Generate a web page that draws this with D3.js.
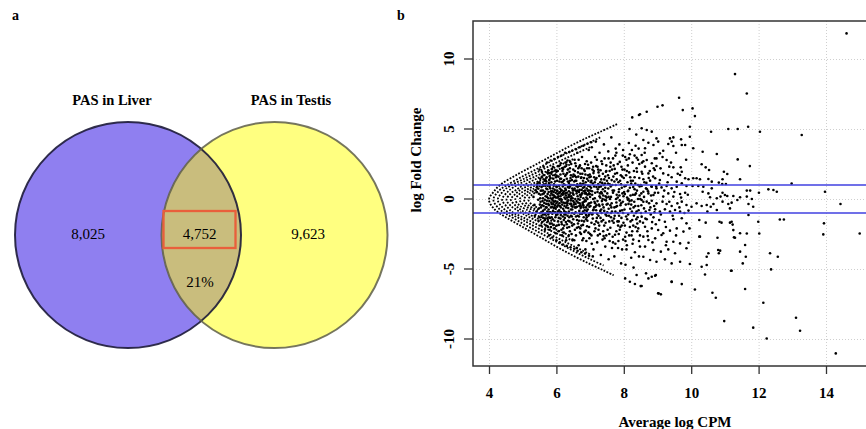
<!DOCTYPE html>
<html>
<head>
<meta charset="utf-8">
<script src="https://cdn.jsdelivr.net/npm/d3@7"></script>
<style>
  body { margin: 0; background: #fff; }
  svg { display: block; }
</style>
</head>
<body>
<svg id="fig" width="866" height="429"></svg>
<script>
(function(){

  // ---- panel a : venn ----
  const vennTitles = ['PAS in Liver', 'PAS in Testis']
  const vennCounts = [8025, 4752, 9623]   // liver only, shared, testis only
  const sharedPct = '21%'

  // ---- panel b : MA plot ----
  const xTicks = [4, 6, 8, 10, 12, 14]
  const yTicks = [-10, -5, 0, 5, 10]
  const foldCut = [1, -1]

  // low-count stripes: tip x, upper branch, lower branch
  const stripeTips = [4.0, 4.13, 4.26, 4.39, 4.52, 4.65, 4.78, 4.91, 5.04, 5.17]
  const stripesUpper = [
    [[4.15,0.55],[4.33,1.0],[4.8,1.7],[5.3,2.35],[5.8,3.0],[6.3,3.65],[6.8,4.25],[7.3,4.8],[7.8,5.35]],
    [[4.3,0.6],[4.5,0.95],[5.0,1.62],[5.5,2.25],[6.0,2.9],[6.5,3.5],[7.0,4.05],[7.3,4.4]],
    [[4.4,0.5],[4.6,0.9],[5.0,1.4],[5.5,2.0],[6.0,2.6],[6.5,3.15],[7.0,3.7]],
    [[4.55,0.5],[4.7,0.8],[5.0,1.2],[5.5,1.75],[6.0,2.3],[6.5,2.85]],
    [[4.65,0.4],[4.8,0.65],[5.0,0.95],[5.5,1.55],[6.0,2.05],[6.4,2.45]],
    [[4.78,0.35],[5.0,0.75],[5.5,1.3],[6.0,1.8]],
    [[4.9,0.35],[5.1,0.65],[5.5,1.1],[5.9,1.5]],
    [[5.05,0.35],[5.3,0.7],[5.8,1.2]],
    [[5.2,0.4],[5.5,0.75]],
    [[5.3,0.35],[5.55,0.6]]
  ]
  const stripesLower = [
    [[4.15,-0.7],[4.5,-1.3],[5.0,-2.0],[5.5,-2.7],[6.0,-3.4],[6.5,-4.05],[7.0,-4.65],[7.4,-5.1],[7.7,-5.45]],
    [[4.3,-0.7],[4.5,-1.05],[5.0,-1.75],[5.5,-2.4],[6.0,-3.05],[6.5,-3.7],[7.0,-4.3],[7.4,-4.75]],
    [[4.4,-0.6],[4.6,-1.0],[5.0,-1.5],[5.5,-2.15],[6.0,-2.75],[6.5,-3.35],[7.0,-3.95]],
    [[4.55,-0.6],[4.7,-0.95],[5.0,-1.3],[5.5,-1.9],[6.0,-2.45],[6.5,-3.0]],
    [[4.65,-0.5],[4.8,-0.75],[5.0,-1.05],[5.5,-1.65],[6.0,-2.2],[6.4,-2.6]],
    [[4.78,-0.45],[5.0,-0.85],[5.5,-1.45],[6.0,-1.95]],
    [[4.9,-0.45],[5.1,-0.75],[5.5,-1.25],[5.9,-1.6]],
    [[5.05,-0.45],[5.3,-0.8],[5.8,-1.3]],
    [[5.2,-0.5],[5.5,-0.85]],
    [[5.3,-0.45],[5.55,-0.7]]
  ]

  const cloudCore = [
    [5.32,0.15],[5.35,-0.42],[5.38,0.62],[5.41,-0.9],[5.44,1.1],[5.46,-0.05],[5.48,0.38],[5.5,-1.3],[5.52,1.45],[5.54,-0.6],
    [5.56,0.85],[5.58,-1.65],[5.6,0.05],[5.62,1.7],[5.64,-0.28],[5.66,0.52],[5.68,-1.05],[5.7,1.25],[5.36,-1.2],[5.43,0.9],
    [5.53,-0.2],[5.59,0.35],[5.65,-0.75],[5.69,-1.9],[5.57,1.95],[5.47,-1.55],[5.61,-1.35],[5.67,0.95],[5.41,0.48],[5.55,-0.95],
    [5.72,-0.12],[5.73,0.7],[5.75,-1.6],[5.76,2.05],[5.78,-0.45],[5.79,1.35],[5.8,-2.2],[5.82,0.25],[5.83,-0.95],[5.85,1.8],
    [5.86,-1.3],[5.88,0.55],[5.89,-0.1],[5.9,2.3],[5.92,-1.85],[5.93,1.05],[5.95,-0.6],[5.96,0.15],[5.98,-2.45],[5.99,1.55],
    [6.0,-0.3],[6.01,0.85],[6.03,-1.1],[6.04,2.0],[6.05,-1.6],[6.07,0.4],[6.08,-0.8],[6.09,1.25],[5.74,0.35],[5.77,-0.75],
    [5.81,1.0],[5.84,-2.0],[5.87,0.0],[5.91,-0.35],[5.94,1.7],[5.97,-1.3],[6.02,0.6],[6.06,-2.3],[6.1,-0.05],[5.76,-1.1],
    [5.88,-0.55],[5.92,0.95],[6.0,1.95],[6.06,0.2],[5.8,1.65],[5.96,-0.95],[6.03,-0.2],[5.85,0.4],
    [6.11,0.5],[6.12,-1.4],[6.13,2.55],[6.15,-0.2],[6.16,1.2],[6.17,-2.6],[6.19,0.9],[6.2,-0.7],[6.21,1.8],[6.23,-1.9],
    [6.24,0.1],[6.25,2.3],[6.27,-1.1],[6.28,0.65],[6.29,-2.95],[6.31,1.45],[6.32,-0.45],[6.33,2.75],[6.35,-1.55],[6.36,0.3],
    [6.37,-0.9],[6.39,1.95],[6.4,-2.3],[6.41,1.0],[6.43,-0.1],[6.44,2.5],[6.45,-1.7],[6.47,0.75],[6.48,-0.55],[6.49,1.6],
    [6.12,1.75],[6.14,-0.95],[6.18,0.3],[6.22,-1.5],[6.26,1.0],[6.3,-0.25],[6.34,0.85],[6.38,-2.0],[6.42,0.45],[6.46,-1.25],
    [6.5,2.1],[6.16,-1.8],[6.2,2.15],[6.24,-0.5],[6.28,-1.65],[6.32,1.85],[6.36,-2.65],[6.4,1.3],[6.44,-0.35],[6.48,-2.9],
    [6.13,0.0],[6.23,0.55],[6.33,-1.2],[6.43,1.7],[6.15,-2.2],[6.27,2.6],[6.37,0.15],[6.47,-1.0]
  ]

  const cloudCoreDense = [
    [5.6,0.6],[5.62,-0.5],[5.63,1.05],[5.66,-1.5],[5.68,0.2],[5.7,-0.35],[5.71,1.55],[5.73,-0.9],[5.74,0.95],[5.75,-2.0],
    [5.77,0.5],[5.78,1.85],[5.79,-0.15],[5.81,-1.35],[5.82,0.75],[5.84,-0.6],[5.85,1.2],[5.86,-1.75],[5.87,2.15],[5.89,0.3],
    [5.9,-0.85],[5.91,1.45],[5.93,-0.2],[5.94,-1.55],[5.95,0.65],[5.97,2.05],[5.98,-0.7],[5.99,0.1],[6.01,-1.9],[6.02,1.3],
    [6.03,0.35],[6.05,-0.45],[6.06,1.6],[6.07,-1.35],[6.08,2.35],[6.1,0.75],[6.11,-0.95],[6.12,0.2],[6.14,1.45],[6.15,-1.65],
    [6.16,0.6],[6.17,-0.4],[6.18,2.0],[6.2,-2.1],[6.21,0.35],[6.22,1.05],[6.23,-0.85],[6.25,-1.35],[6.26,1.65],[6.27,0.0],
    [6.29,-0.6],[6.3,2.45],[6.31,0.45],[6.32,-2.05],[6.34,1.25],[6.35,-0.1],[6.36,-1.0],[6.38,0.8],[6.39,-1.6],[6.4,2.2],
    [6.41,-0.35],[6.42,1.5],[6.44,0.2],[6.45,-2.5],[6.46,1.0],[6.47,-0.75],[6.49,0.4],[6.5,-1.45],[6.51,1.75],[6.52,-0.4],
    [6.54,0.75],[6.55,-2.2],[6.56,2.55],[6.57,-0.95],[6.59,1.55],[6.6,0.4],[6.61,-0.55],[6.62,1.05],[6.64,-1.75],[6.65,0.0],
    [6.66,2.8],[6.67,-1.25],[6.69,0.65],[6.7,-2.4],[6.71,1.8],[6.72,-0.65],[6.74,0.3],[6.75,2.2],[6.76,-1.05],[6.77,-2.95],
    [6.79,1.3],[6.8,-0.45],[6.81,0.55],[6.82,-1.6],[6.84,2.0],[6.85,-0.1],[6.86,1.0],[6.87,-2.25],[6.89,0.35],[6.9,-0.85],
    [6.91,1.45],[6.92,-1.55],[6.94,2.45],[6.95,-0.35],[6.96,0.6],[6.97,-2.0],[6.99,1.75],[7.0,0.15],[7.01,-1.0],[7.03,2.6],
    [5.52,0.05],[5.55,0.6],[5.58,-0.45],[5.61,0.95],[5.64,-1.1],[5.67,1.4],[5.69,-0.6],[5.72,0.15],[5.76,-0.35],[5.8,0.85],
    [5.83,0.05],[5.88,-1.05],[5.92,0.5],[5.96,-0.45],[6.0,0.9],[6.04,-0.9],[6.09,0.0],[6.13,-0.6],[6.19,1.25],[6.24,-1.1],
    [6.28,0.25],[6.33,-0.3],[6.37,1.15],[6.43,-1.2],[6.48,0.05],[6.53,1.25],[6.58,-1.25],[6.63,0.85],[6.68,-0.5],[6.73,1.5],
    [6.78,-0.25],[6.83,0.85],[6.88,-1.15],[6.93,0.3],[6.98,-0.55],[7.02,1.2],[7.04,-1.7],[7.06,0.55],[7.09,-0.8],[7.1,1.85],
    [7.13,-2.3],[7.14,0.05],[7.16,1.4],[7.19,-0.45],[7.2,-1.35],[7.23,0.7],[7.24,2.1],[7.27,-1.9],[7.29,0.4],[7.3,1.2],
    [7.33,-0.75],[7.34,2.7],[7.37,0.0],[7.39,-1.5],[7.4,1.0],[7.43,-2.8],[7.44,0.55],[7.46,-1.1],[7.47,1.95],[7.49,-0.4]
  ]

  const cloudCoreExtra = [
    [5.45,0.75],[5.47,-0.7],[5.49,1.2],[5.51,-0.4],[5.53,0.3],[5.56,-1.2],[5.57,1.55],[5.59,-0.15],[5.6,-0.85],[5.63,0.4],
    [5.65,1.3],[5.66,-0.05],[5.68,-1.4],[5.7,0.75],[5.71,-0.6],[5.73,1.9],[5.74,-1.35],[5.76,0.05],[5.78,1.1],[5.79,-0.95],
    [5.81,-1.75],[5.82,1.5],[5.84,0.55],[5.86,-0.35],[5.87,1.95],[5.89,-1.45],[5.9,0.75],[5.92,-0.65],[5.93,0.25],[5.95,-2.1],
    [5.96,1.25],[5.98,0.45],[5.99,-1.15],[6.01,1.65],[6.02,-0.55],[6.04,0.1],[6.05,2.35],[6.07,-1.85],[6.08,0.95],[6.1,-0.5],
    [6.11,1.45],[6.13,-1.15],[6.14,0.65],[6.16,-0.05],[6.17,2.2],[6.19,-1.25],[6.2,0.45],[6.22,-2.4],[6.23,1.35],[6.25,-0.3],
    [6.26,0.75],[6.28,-0.95],[6.29,1.75],[6.31,-1.8],[6.32,0.1],[6.34,2.1],[6.35,-0.65],[6.37,0.55],[6.38,-1.3],[6.4,0.9],
    [6.41,2.65],[6.43,-0.75],[6.44,0.05],[6.46,1.35],[6.47,-1.9],[6.49,0.6],[6.5,-0.15],[6.52,1.0],[6.53,-1.05],[6.55,2.0],
    [6.56,0.0],[6.58,-0.6],[6.59,1.3],[6.61,-2.05],[6.62,0.55],[6.64,-0.25],[6.65,1.6],[6.67,-1.55],[6.68,2.3],[6.7,0.3],
    [6.71,-0.45],[6.73,0.95],[6.74,-1.9],[6.76,0.4],[6.77,1.8],[6.79,-0.9],[6.8,1.1],[6.82,-0.2],[6.83,-2.35],[6.85,0.6],
    [6.86,1.75],[6.88,-1.45],[6.89,0.1],[6.91,2.2],[6.92,-0.45],[6.94,0.95],[6.95,-1.2],[6.97,0.4],[6.98,1.55],[7.0,-2.5],
    [7.01,0.6],[7.03,-0.25],[7.04,1.3],[7.06,-1.1],[7.07,2.1],[7.09,0.0],[7.1,-0.75],[7.12,1.55],[7.13,-1.8],[7.15,0.45],
    [7.16,-0.55],[7.18,2.35],[7.19,0.85],[7.21,-1.05],[7.22,-0.15],[7.24,1.05],[7.25,-2.2],[7.27,1.65],[7.28,0.2],[7.3,-0.85],
    [7.31,2.05],[7.33,0.5],[7.34,-1.6],[7.36,1.15],[7.37,-0.4],[7.39,0.25],[7.4,-2.65],[7.42,1.4],[7.43,-0.05],[7.45,0.8],
    [7.46,-1.7],[7.48,2.4],[7.49,0.1],[7.51,-0.95],[7.53,1.7],[7.55,0.15],[7.57,-2.5],[7.58,1.05],[7.6,-0.45],[7.61,2.6],
    [5.5,2.1],[5.55,-1.9],[5.62,2.3],[5.66,-2.2],[5.72,2.6],[5.78,-2.6],[5.83,2.75],[5.88,-2.75],[5.94,2.85],[6.0,-2.95],
    [6.05,3.0],[6.1,-3.1],[6.15,3.1],[6.2,-3.25],[6.26,3.3],[6.31,-3.35],[6.38,3.35],[6.42,-3.45],[6.47,3.45],[6.53,-3.55],
    [6.58,3.55],[6.63,-3.7],[6.69,3.7],[6.74,-3.8],[6.8,3.8],[6.85,-3.9],[6.92,3.95],[6.97,-4.05],[7.03,4.05],[7.08,-4.1],
    [5.85,-0.25],[5.91,0.1],[5.97,-0.15],[6.03,0.55],[6.09,-0.3],[6.15,0.35],[6.21,-0.25],[6.27,0.4],[6.33,-0.15],[6.39,0.3],
    [6.45,-0.5],[6.51,0.65],[6.57,-0.35],[6.63,0.6],[6.69,-0.05],[6.75,0.65],[6.81,-0.6],[6.87,0.45],[6.93,-0.75],[6.99,0.35]
  ]

  const cloudMid = [
    [6.51,0.3],[6.52,-1.8],[6.54,2.8],[6.55,-0.6],[6.56,1.3],[6.58,-2.6],[6.59,0.95],[6.6,-0.15],[6.62,3.3],[6.63,-1.2],
    [6.64,1.9],[6.66,-3.3],[6.67,0.5],[6.68,-0.85],[6.7,2.4],[6.71,-2.1],[6.72,0.15],[6.74,1.55],[6.75,-1.55],[6.76,3.0],
    [6.78,-0.35],[6.79,0.8],[6.8,-2.8],[6.82,2.1],[6.83,-1.0],[6.84,0.4],[6.86,-3.6],[6.87,1.2],[6.88,-0.6],[6.9,2.7],
    [6.91,-1.95],[6.92,0.0],[6.94,1.7],[6.95,-2.4],[6.96,3.5],[6.98,-0.3],[6.99,0.9],[6.53,-2.95],[6.57,0.6],[6.61,-1.5],
    [6.65,2.2],[6.69,-0.3],[6.73,-2.5],[6.77,1.05],[6.81,-1.3],[6.85,2.5],[6.89,-3.0],[6.93,0.6],[6.97,-1.1],[6.55,1.65],
    [6.63,0.2],[6.71,1.1],[6.79,-1.85],[6.87,-0.15],[6.95,1.3],[6.6,-3.5],[6.7,-1.05],[6.8,0.05],[6.9,-1.3],[6.58,2.35],
    [6.66,-2.0],[6.74,-0.55],[6.82,1.5],[6.9,0.75],[6.98,-2.8],[6.53,-0.25],[6.68,0.95],[6.84,-0.8],[6.97,2.2],
    [7.01,-0.5],[7.02,1.6],[7.04,-2.6],[7.05,3.7],[7.06,0.3],[7.08,-1.4],[7.09,2.3],[7.1,-3.6],[7.12,0.9],[7.13,-0.2],
    [7.14,1.2],[7.16,-2.1],[7.17,4.1],[7.18,-0.8],[7.2,2.8],[7.21,-3.1],[7.22,0.5],[7.24,-1.7],[7.25,1.9],[7.26,-0.4],
    [7.28,3.3],[7.29,-2.5],[7.3,0.1],[7.32,-4.0],[7.33,1.4],[7.34,-1.0],[7.36,2.5],[7.37,-2.9],[7.38,0.7],[7.4,-0.6],
    [7.41,3.9],[7.42,-1.9],[7.44,1.1],[7.45,-3.4],[7.46,0.2],[7.48,2.0],[7.49,-1.2],[7.03,0.8],[7.07,-1.05],[7.11,2.0],
    [7.15,-0.3],[7.19,1.5],[7.23,-2.6],[7.27,0.85],[7.31,-1.35],[7.35,0.4],[7.39,-2.3],[7.43,2.9],[7.47,-0.1],[7.05,-3.2],
    [7.15,3.0],[7.25,-1.2],[7.35,-0.15],[7.45,1.6],[7.08,1.1],[7.18,-1.6],[7.28,-0.5],[7.38,1.8],[7.48,-2.6],[7.12,-0.6],
    [7.22,2.3],[7.32,0.9],[7.42,-0.85],
    [7.51,0.4],[7.52,-2.2],[7.54,3.4],[7.55,-0.7],[7.56,1.5],[7.58,-3.0],[7.59,0.0],[7.6,2.3],[7.62,-1.3],[7.63,4.4],
    [7.64,-0.3],[7.66,1.0],[7.67,-2.7],[7.68,2.9],[7.7,-1.7],[7.71,0.6],[7.72,-4.1],[7.74,1.8],[7.75,-0.9],[7.76,3.6],
    [7.78,-2.3],[7.79,0.3],[7.8,-0.5],[7.82,2.5],[7.83,-3.5],[7.84,1.2],[7.86,-1.2],[7.87,3.9],[7.88,-0.1],[7.9,-2.0],
    [7.91,1.7],[7.92,-4.6],[7.94,0.8],[7.95,-0.8],[7.96,2.1],[7.98,-2.9],[7.99,0.2],[7.53,1.1],[7.57,-1.6],[7.61,0.9],
    [7.65,-0.9],[7.69,1.6],[7.73,-1.2],[7.77,0.0],[7.81,-1.6],[7.85,0.5],[7.89,1.3],[7.93,-1.35],[7.97,3.1],[7.55,-4.3],
    [7.65,2.1],[7.75,-3.2],[7.85,-2.5],[7.95,-3.6],
    [8.01,0.5],[8.03,-1.9],[8.04,3.0],[8.06,-0.4],[8.07,1.7],[8.09,-3.3],[8.1,0.1],[8.12,2.4],[8.13,-1.1],[8.15,4.0],
    [8.16,-2.6],[8.18,0.8],[8.19,-0.7],[8.21,1.3],[8.22,-4.2],[8.24,3.5],[8.25,-1.5],[8.27,0.3],[8.28,-2.9],[8.3,2.0],
    [8.31,-0.2],[8.33,-3.8],[8.34,1.1],[8.36,-1.0],[8.37,4.6],[8.39,0.6],[8.4,-2.3],[8.42,2.8],[8.43,-0.5],[8.45,-3.0],
    [8.46,1.5],[8.48,-1.6],[8.49,0.0],[8.02,2.1],[8.08,-2.4],[8.14,0.0],[8.2,-1.6],[8.26,2.6],[8.32,0.7],[8.38,-0.9],
    [8.44,3.6],[8.05,-4.7],[8.17,5.0],[8.29,-4.9],[8.41,-1.3],[8.11,1.2],[8.23,-0.1],[8.35,-2.0],[8.47,0.9]
  ]

  const cloudMidDense = [
    [7.5,1.3],[7.52,-0.35],[7.54,0.75],[7.56,-1.2],[7.58,2.0],[7.6,-2.05],[7.62,0.15],[7.64,1.35],[7.66,-1.55],[7.68,0.45],
    [7.7,2.4],[7.72,-0.6],[7.74,-2.55],[7.76,1.0],[7.78,-0.25],[7.8,1.85],[7.82,-1.0],[7.84,-3.0],[7.86,0.7],[7.88,2.65],
    [7.9,-0.45],[7.92,1.05],[7.94,-1.9],[7.96,0.4],[7.98,-1.0],[8.0,1.5],[8.02,-0.75],[8.04,-2.7],[8.06,0.95],[8.08,2.8],
    [8.1,-1.45],[8.12,0.55],[8.14,-0.35],[8.16,1.9],[8.18,-2.0],[8.2,0.25],[8.22,1.1],[8.24,-0.9],[8.26,-3.2],[8.28,0.85],
    [8.3,-1.2],[8.32,3.1],[8.34,-0.5],[8.36,0.4],[8.38,2.2],[8.4,-1.75],[8.42,0.0],[8.44,-0.8],[8.46,2.5],[8.48,-2.6],
    [8.5,1.0],[8.52,-0.45],[8.55,1.8],[8.57,-1.7],[8.6,0.15],[8.62,3.3],[8.65,-0.9],[8.67,1.15],[8.7,-2.3],[8.72,0.55],
    [8.75,-0.3],[8.77,2.0],[8.8,-1.1],[8.82,0.9],[8.85,-3.1],[8.87,1.6],[8.9,-0.5],[8.92,0.45],[8.95,-1.8],[8.97,2.9],
    [7.55,2.9],[7.65,-3.5],[7.75,3.1],[7.85,-1.6],[7.95,1.6],[8.05,-3.0],[8.15,2.9],[8.25,-2.3],[8.35,3.8],[8.45,-4.1],
    [7.62,-1.0],[7.72,1.25],[7.82,0.1],[7.92,-0.3],[8.02,0.9],[8.12,-0.05],[8.22,-0.4],[8.32,1.55],[8.42,1.0],[8.52,0.4],
    [9.05,1.1],[9.1,-1.1],[9.2,0.6],[9.25,-2.0],[9.3,1.2],[9.35,-0.2],[9.4,2.6],[9.45,-1.2],[9.5,0.5],[9.55,-2.6],
    [9.6,1.8],[9.65,-0.6],[9.7,0.1],[9.8,-1.0],[9.85,2.8],[9.9,0.3],[9.95,-2.1],[9.15,3.0],[9.25,-3.3],[9.55,3.3],
    [7.63,-0.6],[7.67,0.6],[7.71,-1.4],[7.73,2.15],[7.77,-0.55],[7.79,1.4],[7.83,-1.9],[7.87,0.25],[7.89,-0.85],[7.93,2.3],
    [7.97,-0.2],[7.99,-1.7],[8.03,0.35],[8.07,-1.25],[8.09,2.0],[8.13,0.6],[8.17,-0.15],[8.19,1.55],[8.23,-2.6],[8.27,1.3],
    [8.29,-0.6],[8.33,0.3],[8.37,-1.45],[8.39,1.95],[8.43,-2.1],[8.47,0.25],[8.51,-1.0],[8.54,2.6],[8.58,-0.2],[8.61,1.2],
    [8.64,-1.4],[8.69,0.7],[8.71,-2.65],[8.74,1.5],[8.79,-0.6],[8.81,0.25],[8.84,-1.65],[8.89,2.2],[8.91,-0.95],[8.96,0.9],
    [7.68,-3.1],[7.78,3.3],[7.88,-2.2],[7.98,3.5],[8.08,-3.6],[8.18,3.2],[8.28,-1.9],[8.38,2.95],[8.48,-3.4],[8.58,2.7]
  ]

  const cloudWide = [
    [8.48,6.05],[8.53,5.05],[8.68,4.93],[8.83,4.81],[8.97,4.33],[9.02,4.1],[9.37,4.33],[9.47,4.4],[9.42,4.1],[9.32,3.93],
    [9.47,3.79],[9.7,4.26],[9.72,3.86],[9.82,3.86],[8.58,4.21],[8.73,4.02],[8.88,3.86],[8.63,3.62],[9.07,3.26],[9.17,3.45],
    [8.92,2.9],[8.53,3.14],[8.68,2.79],[8.83,2.55],[9.27,2.79],[9.35,2.31],[9.47,2.26],[9.69,2.26],[9.72,1.95],[9.67,1.71],
    [8.97,2.36],[9.09,2.19],[8.92,2.07],[8.63,2.31],[8.53,1.95],[8.73,1.83],[9.17,1.83],[9.32,1.71],[9.42,1.55],[9.82,1.48],
    [9.92,1.41],[8.58,1.41],[8.78,1.31],[8.93,1.48],[9.07,1.36],[9.57,1.24],[9.72,1.12],[8.53,0.93],[8.66,0.76],[8.83,0.88],
    [8.97,0.76],[9.12,0.83],[9.27,0.93],[9.42,0.76],[9.57,0.88],[9.86,0.93],[8.58,0.52],[8.73,0.4],[8.88,0.29],[9.02,0.45],
    [9.17,0.17],[9.32,0.4],[9.47,0.17],[9.67,0.36],[9.82,0.45],[8.53,-0.07],[8.68,-0.19],[8.83,-0.12],[8.97,-0.31],[9.15,-0.19],
    [9.27,-0.36],[9.42,-0.5],[9.59,-0.31],[9.72,-0.19],[9.86,-0.43],[8.6,-0.67],[8.76,-0.79],[8.93,-0.74],[9.07,-0.9],[9.22,-0.74],
    [9.37,-0.9],[9.52,-0.79],[9.67,-0.9],[9.92,-0.83],[8.53,-1.26],[8.68,-1.45],[8.88,-1.31],[9.05,-1.5],[9.22,-1.62],[9.47,-1.45],
    [9.72,-1.38],[9.86,-1.74],[8.63,-1.98],[8.83,-2.1],[9.02,-2.21],[9.17,-2.45],[9.37,-2.26],[9.57,-2.1],[9.77,-2.33],[8.58,-2.69],
    [8.73,-2.93],[8.93,-2.81],[9.12,-2.57],[9.27,-3.05],[9.47,-3.05],[9.67,-3.17],[9.92,-3.12],[8.63,-3.4],[8.88,-3.64],[9.1,-3.76],
    [9.32,-3.6],[9.52,-3.88],[9.86,-3.52],[8.58,-4.12],[8.78,-4.36],[8.97,-4.48],[9.22,-4.31],[9.42,-4.6],[9.67,-4.48],[9.96,-4.64],
    [8.83,-5.55],[8.95,-5.43],[8.53,-6.21],[9.02,-6.74],[9.42,-5.9],
    [10.31,2.48],[10.43,2.26],[10.53,2.07],[10.97,1.95],[11.07,1.79],[10.93,1.41],[11.45,1.41],[10.51,1.43],[10.61,1.24],[10.06,1.48],
    [10.16,1.48],[10.26,1.41],[10.82,1.17],[10.04,0.93],[10.21,0.93],[10.36,0.88],[10.61,0.76],[10.92,1.07],[11.03,1.07],[10.34,0.52],
    [10.51,0.4],[10.56,0.12],[10.93,0.45],[11.0,0.29],[11.07,0.21],[11.25,0.21],[11.45,0.12],[11.65,0.17],[10.76,0.05],[10.87,0.17],
    [10.16,-0.31],[10.31,-0.5],[10.46,-0.43],[10.58,-0.55],[10.66,-0.36],[10.01,-0.55],[10.93,-0.19],[11.1,-0.36],[11.2,-0.26],[11.37,-0.07],
    [11.15,-0.67],[11.7,-0.36],[10.48,-0.9],[10.76,-0.79],[10.24,-1.5],[10.43,-1.69],[10.84,-1.62],[11.15,-1.69],[11.23,-1.83],[11.7,-1.14],
    [11.45,-2.45],[10.24,-2.69],[11.27,-2.74],[10.86,-3.69],[11.45,-3.76],[10.46,-4.71],[11.2,-5.12],
    [11.65,0.6],[11.75,0.6],[11.84,-0.55],[11.8,0.0]
  ]

  const outliers = [
    [14.61,11.83],[11.3,8.92],[11.65,7.54],[9.64,7.23],[9.75,6.35],[10.04,6.47],[10.11,5.92],[9.0,6.59],[9.15,6.69],[8.68,6.23],
    [8.25,5.83],[8.45,6.0],[9.96,5.16],[10.59,4.8],[11.1,5.0],[11.38,5.0],[11.69,5.16],[12.04,4.8],[13.28,4.57],[11.38,2.83],
    [11.74,2.35],[10.76,3.21],[10.34,3.38],[10.06,3.62],[9.96,4.45],[12.98,1.1],[13.97,0.52],[14.43,-0.36],[15.0,-2.46],[13.94,-1.74],
    [13.92,-2.53],[12.63,-1.46],[12.75,-1.46],[12.29,0.69],[12.44,0.64],[12.54,0.52],[12.01,0.45],[11.99,-1.62],[12.02,-2.46],[12.34,-3.88],
    [12.37,-5.03],[12.57,-4.12],[12.14,-7.41],[13.11,-8.48],[13.23,-9.41],[12.24,-9.96],[11.84,-9.19],[10.98,-8.72],[14.29,-11.03],[11.6,-6.43],
    [11.18,-5.12],[11.53,-4.6],[11.62,-4.12],[11.6,-3.29],[11.65,-2.46],[10.11,-6.46],[10.63,-6.7],[10.73,-7.05],[9.72,-6.08],[9.42,-5.93],
    [9.03,-6.74],[9.1,-6.81],[8.04,-5.67],[8.18,-5.91],[8.33,-6.07],[8.5,-6.22],[8.38,-5.43],[8.73,-5.67],[8.93,-5.48],[8.66,-5.31],
    [10.31,-4.84],[10.41,-5.39],[10.46,-4.12],[10.51,-3.88],[10.8,-3.64],[10.82,-3.88],[10.78,-2.77],[10.26,-2.69],[11.25,-2.22],[11.3,-2.77],
    [11.2,-1.62],[10.9,-1.69]
  ]

  const serif = '"Liberation Serif", "Times New Roman", serif'
  const svg = d3.select('#fig')
  const fmt = d3.format(',')

  // panel letters
  svg.append('text').attr('x', 12).attr('y', 20).text('a')
    .attr('font-family', serif).attr('font-weight', 'bold').attr('font-size', '14px')
  svg.append('text').attr('x', 397).attr('y', 20).text('b')
    .attr('font-family', serif).attr('font-weight', 'bold').attr('font-size', '14px')

  // ---------- venn ----------
  const cy = 235, rad = 113
  const cxs = [128, 274.5]

  svg.append('defs').append('clipPath').attr('id', 'liverClip')
    .append('circle').attr('cx', cxs[0]).attr('cy', cy).attr('r', rad)

  const venn = svg.append('g')
  venn.append('circle').attr('cx', cxs[0]).attr('cy', cy).attr('r', rad).attr('fill', '#8f7ff0')
  venn.append('circle').attr('cx', cxs[1]).attr('cy', cy).attr('r', rad).attr('fill', '#ffff80')
  venn.append('circle').attr('cx', cxs[1]).attr('cy', cy).attr('r', rad)
    .attr('fill', '#c9bd7d').attr('clip-path', 'url(#liverClip)')
  venn.append('circle').attr('cx', cxs[0]).attr('cy', cy).attr('r', rad)
    .attr('fill', 'none').attr('stroke', '#1d1b38').attr('stroke-width', 2).attr('stroke-opacity', 0.9)
  venn.append('circle').attr('cx', cxs[1]).attr('cy', cy).attr('r', rad)
    .attr('fill', 'none').attr('stroke', '#5e5e4a').attr('stroke-width', 2).attr('stroke-opacity', 0.85)

  venn.selectAll('text.title').data(vennTitles).enter().append('text')
    .attr('class', 'title')
    .attr('x', function(d, i) { return [112, 291][i] })
    .attr('y', 105)
    .attr('text-anchor', 'middle')
    .attr('font-family', serif).attr('font-weight', 'bold').attr('font-size', '14.5px')
    .text(function(d) { return d })

  venn.selectAll('text.count').data(vennCounts).enter().append('text')
    .attr('class', 'count')
    .attr('x', function(d, i) { return [88, 199.5, 308][i] })
    .attr('y', 238.5)
    .attr('text-anchor', 'middle')
    .attr('font-family', serif).attr('font-size', '15px')
    .text(function(d) { return fmt(d) })

  venn.append('text').attr('x', 200).attr('y', 287)
    .attr('text-anchor', 'middle')
    .attr('font-family', serif).attr('font-size', '15px')
    .text(sharedPct)

  venn.append('rect').attr('x', 163.5).attr('y', 211).attr('width', 72).attr('height', 37)
    .attr('fill', 'none').attr('stroke', '#e95f3b').attr('stroke-width', 2.3)

  // ---------- MA plot ----------
  const box = {left: 473, top: 21, right: 880, bottom: 366}
  const x = d3.scaleLinear().domain([4, 14]).range([489, 826])
  const y = d3.scaleLinear().domain([-10, 10]).range([339, 59])

  const ma = svg.append('g')
  svg.select('defs').append('clipPath').attr('id', 'boxClip')
    .append('rect').attr('x', box.left).attr('y', box.top)
    .attr('width', box.right - box.left).attr('height', box.bottom - box.top)

  // grid
  ma.selectAll('line.vgrid').data(xTicks).enter().append('line')
    .attr('x1', function(d) { return x(d) + 0.5 }).attr('x2', function(d) { return x(d) + 0.5 })
    .attr('y1', box.top).attr('y2', box.bottom)
    .attr('stroke', '#cfcfcf').attr('stroke-dasharray', '1,2')
  ma.selectAll('line.hgrid').data(yTicks).enter().append('line')
    .attr('y1', function(d) { return y(d) + 0.5 }).attr('y2', function(d) { return y(d) + 0.5 })
    .attr('x1', box.left).attr('x2', box.right)
    .attr('stroke', '#cfcfcf').attr('stroke-dasharray', '1,2')

  const pts = ma.append('g').attr('clip-path', 'url(#boxClip)')

  // dotted count stripes
  const arc = d3.line()
    .x(function(d) { return x(d[0]) }).y(function(d) { return y(d[1]) })
    .curve(d3.curveCatmullRom)
  const arcs = stripeTips.map(function(t, i) {
    return stripesUpper[i].slice().reverse().concat([[t, -0.05]], stripesLower[i])
  })
  pts.selectAll('path.stripe').data(arcs).enter().append('path')
    .attr('d', arc)
    .attr('fill', 'none').attr('stroke', '#000')
    .attr('stroke-width', 1.8).attr('stroke-dasharray', '1.8,1.5')

  const cloud = cloudCore.concat(cloudCoreDense, cloudCoreExtra, cloudMid, cloudMidDense, cloudWide, outliers)
  pts.selectAll('circle').data(cloud).enter().append('circle')
    .attr('cx', function(d) { return x(d[0]) })
    .attr('cy', function(d) { return y(d[1]) })
    .attr('r', 1.3)
    .attr('fill', '#000')

  // fold-change cut-offs
  ma.selectAll('line.cut').data(foldCut).enter().append('line')
    .attr('x1', box.left).attr('x2', box.right)
    .attr('y1', function(d) { return y(d) }).attr('y2', function(d) { return y(d) })
    .attr('stroke', '#4040e0').attr('stroke-width', 1.3)

  // frame
  ma.append('rect').attr('x', box.left).attr('y', box.top)
    .attr('width', box.right - box.left).attr('height', box.bottom - box.top)
    .attr('fill', 'none').attr('stroke', '#333').attr('stroke-width', 1.5)

  // axes
  const plain = function(d) { return d < 0 ? '-' + Math.abs(d) : String(d) }
  const xAxis = ma.append('g').attr('transform', 'translate(0,' + box.bottom + ')')
    .call(d3.axisBottom(x).tickValues(xTicks).tickFormat(plain).tickSize(8).tickPadding(13))
  const yAxis = ma.append('g').attr('transform', 'translate(' + box.left + ',0)')
    .call(d3.axisLeft(y).tickValues(yTicks).tickFormat(plain).tickSize(9).tickPadding(10))
  ;[xAxis, yAxis].forEach(function(ax) {
    ax.select('.domain').remove()
    ax.selectAll('line').attr('stroke', '#333').attr('stroke-width', 1.3)
    ax.selectAll('text').attr('font-family', serif).attr('font-weight', 'bold')
      .attr('font-size', '15px').attr('fill', '#000')
  })
  yAxis.selectAll('text')
    .attr('transform', function(d) { return 'rotate(-90,' + (-24) + ',' + y(d) + ')' })
    .attr('x', -24).attr('y', function(d) { return y(d) })
    .attr('dy', '0.35em').attr('text-anchor', 'middle')
  yAxis.selectAll('.tick').attr('transform', null)
  yAxis.selectAll('.tick line')
    .attr('y1', function(d) { return y(d) }).attr('y2', function(d) { return y(d) })

  ma.append('text').attr('x', 675).attr('y', 427)
    .attr('text-anchor', 'middle')
    .attr('font-family', serif).attr('font-weight', 'bold').attr('font-size', '15px')
    .text('Average log CPM')
  ma.append('text').attr('transform', 'translate(421,160) rotate(-90)')
    .attr('text-anchor', 'middle')
    .attr('font-family', serif).attr('font-weight', 'bold').attr('font-size', '15px')
    .text('log Fold Change')

})()
</script>
</body>
</html>
